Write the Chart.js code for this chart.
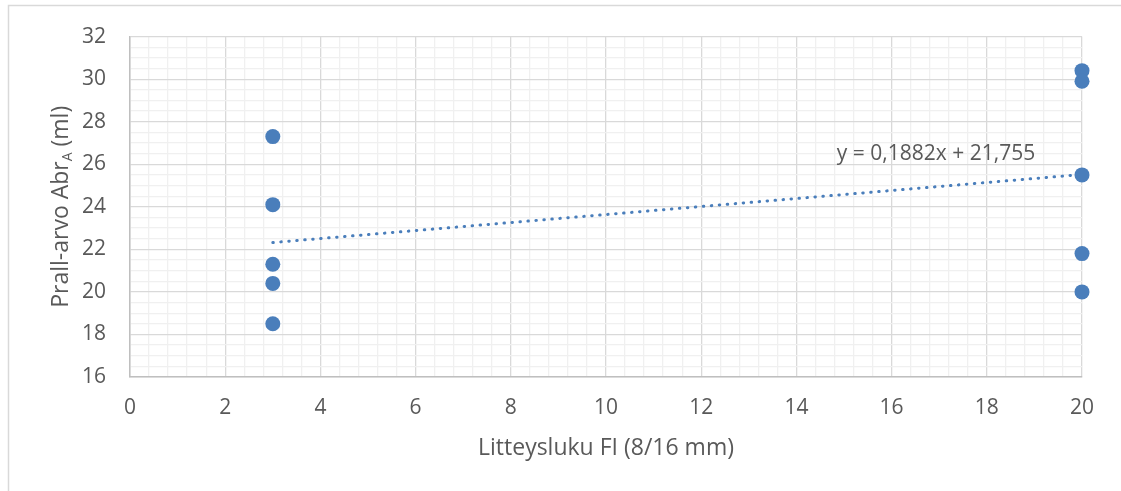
<!DOCTYPE html>
<html>
<head>
<meta charset="utf-8">
<script src="https://cdn.jsdelivr.net/npm/chart.js@4/dist/chart.umd.min.js"></script>
<style>
  html, body { margin: 0; padding: 0; background: #fff; }
  #wrap { width: 1121px; height: 491px; position: relative; }
</style>
</head>
<body>
<div id="wrap"><canvas id="chart" width="1121" height="491"></canvas></div>
<script>
// Mittaukset (luettu kuvasta)
const flakinessFI = [3, 3, 3, 3, 3, 20, 20, 20, 20, 20];
const prallAbr = [27.3, 24.1, 21.3, 20.4, 18.5, 30.4, 29.9, 25.5, 21.8, 20.0];

// Excelin lineaarinen trendiviiva
const trendSlope = 0.1882;
const trendIntercept = 21.755;
const trendFrom = 3;
const trendTo = 20;
const trendLabel = 'y = 0,1882x + 21,755';

// Akselit
const xMin = 0, xMax = 20, xMajor = 2, xMinor = 0.4;
const yMin = 16, yMax = 32, yMajor = 2, yMinor = 0.5;
const xTitle = 'Litteysluku FI (8/16 mm)';
const yTitleMain = 'Prall-arvo Abr';
const yTitleSub = 'A';
const yTitleEnd = ' (ml)';

const textColor = '#595959';
const fontFamily = "'Open Sans', sans-serif";
const blue = '#4a7ebb';

const points = flakinessFI.map((x, i) => ({ x: x, y: prallAbr[i] }));
const trend = [trendFrom, trendTo].map(x => ({ x: x, y: trendSlope * x + trendIntercept }));

const isMajor = (v, step) => Math.abs(v / step - Math.round(v / step)) < 1e-6;

const gridStyle = step => ({
    drawTicks: false,
    lineWidth: 1.3,
    color: ctx => isMajor(ctx.tick.value, step) ? '#d9d9d9' : '#f0f0f0'
});

const extras = {
    id: 'extras',
    beforeDraw(chart) {
        const ctx = chart.ctx;
        ctx.save();
        ctx.fillStyle = '#fff';
        ctx.fillRect(0, 0, chart.width, chart.height);
        // Kaavion reunus (vasen + ylä)
        ctx.strokeStyle = '#d9d9d9';
        ctx.lineWidth = 1.5;
        ctx.beginPath();
        ctx.moveTo(8.5, chart.height);
        ctx.lineTo(8.5, 5.5);
        ctx.lineTo(chart.width, 5.5);
        ctx.stroke();
        ctx.restore();
    },
    afterDraw(chart) {
        const ctx = chart.ctx;
        const area = chart.chartArea;
        const xs = chart.scales.x, ys = chart.scales.y;
        ctx.save();
        ctx.fillStyle = textColor;

        // x-akselin otsikko
        ctx.font = '23px ' + fontFamily;
        ctx.textAlign = 'center';
        ctx.textBaseline = 'alphabetic';
        ctx.fillText(xTitle, (area.left + area.right) / 2, 455);

        // y-akselin otsikko alaindeksillä
        const mainFont = '23px ' + fontFamily;
        const subFont = '14px ' + fontFamily;
        ctx.font = mainFont;
        const w1 = ctx.measureText(yTitleMain).width;
        const w3 = ctx.measureText(yTitleEnd).width;
        ctx.font = subFont;
        const w2 = ctx.measureText(yTitleSub).width;
        const total = w1 + w2 + w3;
        ctx.translate(68, (area.top + area.bottom) / 2);
        ctx.rotate(-Math.PI / 2);
        ctx.textAlign = 'left';
        let px = -total / 2;
        ctx.font = mainFont;
        ctx.fillText(yTitleMain, px, 0);
        px += w1;
        ctx.font = subFont;
        ctx.fillText(yTitleSub, px, 4);
        px += w2;
        ctx.font = mainFont;
        ctx.fillText(yTitleEnd, px, 0);
        ctx.setTransform(1, 0, 0, 1, 0, 0);

        // Trendiviivan yhtälö
        ctx.font = '21px ' + fontFamily;
        ctx.textAlign = 'left';
        ctx.fillText(trendLabel, xs.getPixelForValue(14.85), ys.getPixelForValue(26.2));
        ctx.restore();
    }
};

new Chart(document.getElementById('chart'), {
    type: 'scatter',
    data: {
        datasets: [
            {
                label: 'Prall',
                data: points,
                backgroundColor: blue,
                borderColor: blue,
                pointRadius: 7.5,
                pointHoverRadius: 7.5,
                borderWidth: 0,
                clip: false,
                order: 1
            },
            {
                label: 'Trendi',
                data: trend,
                showLine: true,
                borderColor: blue,
                borderWidth: 3,
                borderDash: [0.5, 7.5],
                borderCapStyle: 'round',
                pointRadius: 0,
                fill: false,
                order: 2
            }
        ]
    },
    options: {
        responsive: false,
        animation: false,
        events: [],
        layout: { padding: { top: 35, right: 39, left: 0, bottom: 0 } },
        plugins: {
            legend: { display: false },
            tooltip: { enabled: false }
        },
        scales: {
            x: {
                type: 'linear',
                min: xMin,
                max: xMax,
                afterFit: s => { s.height = 114; },
                border: { color: '#bfbfbf', width: 1.5 },
                grid: gridStyle(xMajor),
                ticks: {
                    stepSize: xMinor,
                    maxTicksLimit: 1000,
                    autoSkip: false,
                    maxRotation: 0,
                    padding: 18,
                    color: textColor,
                    font: { family: fontFamily, size: 21 },
                    callback: v => isMajor(v, xMajor) ? String(Math.round(v)) : ''
                }
            },
            y: {
                type: 'linear',
                min: yMin,
                max: yMax,
                afterFit: s => { s.width = 130; },
                border: { color: '#bfbfbf', width: 1.5 },
                grid: gridStyle(yMajor),
                ticks: {
                    stepSize: yMinor,
                    maxTicksLimit: 1000,
                    autoSkip: false,
                    padding: 24,
                    color: textColor,
                    font: { family: fontFamily, size: 21 },
                    callback: v => isMajor(v, yMajor) ? String(Math.round(v)) : ''
                }
            }
        }
    },
    plugins: [extras]
});
</script>
</body>
</html>
